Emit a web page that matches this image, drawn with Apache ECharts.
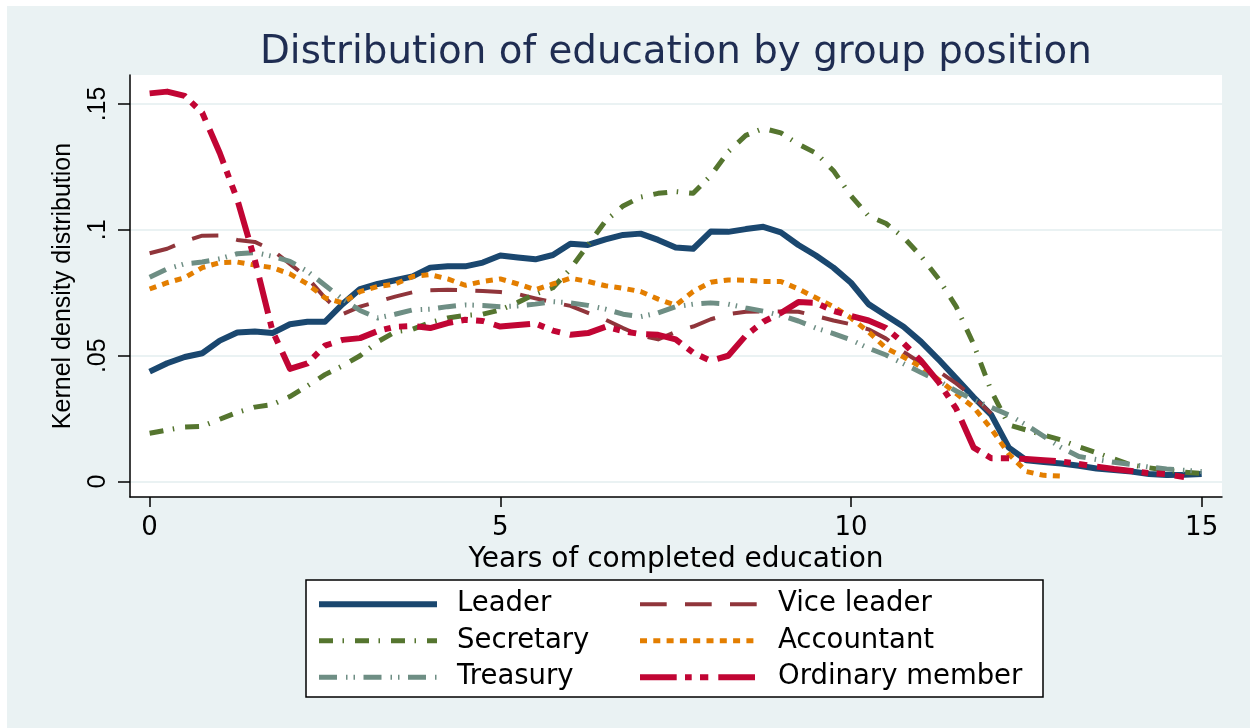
<!DOCTYPE html>
<html>
<head>
<meta charset="utf-8">
<script src="https://cdn.jsdelivr.net/npm/echarts@6/dist/echarts.min.js"></script>
<style>
html,body{margin:0;padding:0;background:#fff;width:1250px;height:728px;overflow:hidden}
#chart{position:absolute;left:7px;top:6px;width:1243px;height:722px}
</style>
</head>
<body>
<div id="chart"></div>
<script>
// ---- data ----
const years = [0,0.25,0.5,0.75,1,1.25,1.5,1.75,2,2.25,2.5,2.75,3,3.25,3.5,3.75,4,4.25,4.5,4.75,5,5.25,5.5,5.75,6,6.25,6.5,6.75,7,7.25,7.5,7.75,8,8.25,8.5,8.75,9,9.25,9.5,9.75,10,10.25,10.5,10.75,11,11.25,11.5,11.75,12,12.25,12.5,12.75,13,13.25,13.5,13.75,14,14.25,14.5,14.75,15];

const leader = [0.0437,0.047,0.0495,0.051, 0.056,0.0592,0.0596,0.059, 0.0625,0.0635,0.0635,0.0705, 0.0765,0.0785,0.080,0.0815, 0.085,0.0855,0.0855,0.087, 0.0898,0.089,0.0883,0.090, 0.0945,0.094,0.0962,0.098, 0.0985,0.096,0.093,0.0925, 0.0993,0.0992,0.1003,0.1012, 0.099,0.094,0.0898,0.085, 0.079,0.0705,0.066,0.0615, 0.0555,0.0485,0.041,0.0335, 0.0265,0.0135,0.0085,0.0078, 0.0072,0.0063,0.0052,0.0046, 0.004,0.003,0.0026,0.0027, 0.003];

const viceLeader = [0.0907,0.0925,0.0955,0.0977, 0.0978,0.096,0.0952,0.092, 0.0865,0.081,0.073,0.0665, 0.0695,0.0715,0.0735,0.0752, 0.076,0.0762,0.076,0.0757, 0.0753,0.0745,0.0728,0.0712, 0.0698,0.067,0.0643,0.061, 0.058,0.0565,0.0595,0.0616, 0.0645,0.0665,0.0675,0.0676, 0.0676,0.0675,0.0658,0.064, 0.0625,0.0605,0.0568,0.0515, 0.047,0.0438,0.039,0.0335, 0.027,null,null,null, null,null,null,null, null,null,null,null, null];

const secretary = [0.0192,0.0205,0.0217,0.022, 0.0248,0.0275,0.0296,0.0306, 0.0338,0.038,0.0425,0.046, 0.050,0.0555,0.0595,0.0605, 0.0632,0.065,0.066,0.0665, 0.0682,0.0712,0.0745,0.077, 0.0845,0.094,0.1035,0.1095, 0.113,0.1145,0.1152,0.1145, 0.1215,0.131,0.1375,0.1403, 0.1385,0.134,0.1305,0.1235, 0.1135,0.1055,0.1025,0.097, 0.0895,0.0805,0.0695,0.0545, 0.036,0.0225,0.0205,0.0185, 0.0165,0.0138,0.0115,0.009, 0.0066,0.0055,0.0045,0.0038, 0.0033];

const accountant = [0.0765,0.079,0.081,0.085, 0.087,0.0872,0.086,0.085, 0.0825,0.0785,0.073,0.071, 0.0755,0.0775,0.0785,0.0815, 0.0822,0.0805,0.078,0.0795, 0.0805,0.0785,0.0762,0.0785, 0.0808,0.0795,0.0778,0.0768, 0.0755,0.0725,0.070,0.0755, 0.0792,0.0801,0.080,0.0795, 0.0795,0.0765,0.073,0.0695, 0.065,0.0595,0.053,0.0495, 0.0455,0.0405,0.035,0.0295, 0.021,0.011,0.004,0.0025, 0.0022,null,null,null, null,null,null,null, null];

const treasury = [0.0812,0.0845,0.0865,0.0872, 0.0885,0.0905,0.091,0.0895, 0.0875,0.0835,0.078,0.0725, 0.068,0.065,0.0665,0.0682, 0.0685,0.0695,0.0702,0.070, 0.0695,0.0698,0.0705,0.0715, 0.071,0.070,0.0685,0.0665, 0.0655,0.067,0.0695,0.0705, 0.071,0.0705,0.069,0.0677, 0.066,0.0638,0.061,0.0588, 0.0563,0.053,0.0503,0.0468, 0.0433,0.040,0.036,0.0325, 0.0295,0.0265,0.0225,0.018, 0.0135,0.010,0.0088,0.0077, 0.0068,0.0058,0.005,0.0045, 0.004];

const ordinary = [0.1542,0.1549,0.1532,0.1465, 0.1305,0.112,0.088,0.060, 0.0448,0.047,0.054,0.0563, 0.057,0.0598,0.0615,0.0618, 0.061,0.063,0.0643,0.0638, 0.0616,0.0622,0.0628,0.060, 0.0583,0.059,0.0615,0.0598, 0.0586,0.0583,0.0565,0.0512, 0.048,0.050,0.058,0.0635, 0.067,0.0713,0.071,0.0678, 0.0658,0.064,0.061,0.055, 0.048,0.0395,0.029,0.0135, 0.0093,0.0093,0.009,0.0085, 0.008,0.007,0.006,0.005, 0.0042,0.0034,0.003,0.0018, null];

const xTicks = [0, 5, 10, 15];
const yTicks = [0, 0.05, 0.1, 0.15];
const seriesNames = ['Leader','Vice leader','Secretary','Accountant','Treasury','Ordinary member'];

// ---- build ----
function pairs(vals){
  const out = [];
  for (let i = 0; i < years.length; i++) if (vals[i] != null) out.push([years[i], vals[i]]);
  return out;
}
const seriesData = [leader, viceLeader, secretary, accountant, treasury, ordinary];
const styles = [
  {color:'#1A476F', width:6, type:'solid'},
  {color:'#90353B', width:4, type:[26.7,18.3]},
  {color:'#55752F', width:5, type:[14,9.5,1.5,11]},
  {color:'#E37E00', width:5, type:[7,6.3]},
  {color:'#6E8E84', width:5, type:[18,9,1.5,6,1.5,8.5]},
  {color:'#C10534', width:6, type:[36.7,8.3,6.7,8.3,8.3,10]}
];

const series = seriesNames.map((name, i) => ({
  name: name,
  type: 'line',
  data: pairs(seriesData[i]),
  showSymbol: false,
  symbol: 'none',
  smooth: false,
  z: 2 + i,
  color: styles[i].color,
  lineStyle: {color: styles[i].color, width: styles[i].width, type: styles[i].type, cap: 'butt', join: 'round'},
  emphasis: {disabled: true}
}));

function legendItem(name){
  const s = styles[seriesNames.indexOf(name)];
  return {
    name: name,
    itemStyle: {opacity: 0, color: 'transparent', borderWidth: 0},
    lineStyle: {color: s.color, width: s.width, type: s.type, cap: 'butt', opacity: 1}
  };
}

const legendCommon = {
  orient: 'vertical',
  top: 584.3,
  padding: 0,
  itemWidth: 118,
  itemHeight: 30,
  itemGap: 8.5,
  z: 10,
  selectedMode: false,
  textStyle: {fontFamily: 'DejaVu Sans', fontSize: 27.5, color: '#000', padding: [0, 0, 0, 15]}
};

const chart = echarts.init(document.getElementById('chart'), null, {renderer: 'canvas'});
chart.setOption({
  backgroundColor: '#EAF2F3',
  animation: false,
  title: {
    text: 'Distribution of education by group position',
    left: 253, top: 27, padding: 0,
    textStyle: {fontFamily: 'DejaVu Sans', fontSize: 38.8, fontWeight: 'normal', color: '#1F2D52'}
  },
  grid: {left: 123, top: 69, right: 28, bottom: 231, show: true, backgroundColor: '#fff', borderWidth: 0},
  xAxis: {
    type: 'value', min: -0.28, max: 15.29,
    name: 'Years of completed education', nameLocation: 'middle', nameGap: 38,
    nameTextStyle: {fontFamily: 'DejaVu Sans', fontSize: 28, color: '#000'},
    axisLine: {show: true, onZero: false, lineStyle: {color: '#000', width: 1.5}},
    axisTick: {show: true, customValues: xTicks, length: 10, lineStyle: {color: '#000', width: 1.5}},
    axisLabel: {customValues: xTicks, margin: 18, fontFamily: 'DejaVu Sans', fontSize: 26, color: '#000'},
    splitLine: {show: false}
  },
  yAxis: {
    type: 'value', min: -0.0061, max: 0.1615,
    name: 'Kernel density distribution', nameLocation: 'middle', nameGap: 54, nameRotate: 90,
    nameTextStyle: {fontFamily: 'Liberation Sans', fontSize: 25, color: '#000'},
    axisLine: {show: true, onZero: false, lineStyle: {color: '#000', width: 1.5}},
    axisTick: {show: true, customValues: yTicks, length: 12, lineStyle: {color: '#000', width: 1.5}},
    axisLabel: {
      customValues: yTicks, rotate: 90, margin: 19,
      fontFamily: 'Liberation Sans', fontSize: 25, color: '#000',
      formatter: v => (Math.abs(v) < 1e-9 ? '0' : String(+v.toFixed(2)).replace(/^0\./, '.'))
    },
    splitLine: {show: true, lineStyle: {color: '#EAF2F3', width: 2}}
  },
  legend: [
    Object.assign({}, legendCommon, {left: 309, data: ['Leader', 'Secretary', 'Treasury'].map(legendItem)}),
    Object.assign({}, legendCommon, {left: 630, data: ['Vice leader', 'Accountant', 'Ordinary member'].map(legendItem)})
  ],
  graphic: [{
    type: 'rect', z: 1,
    shape: {x: 299, y: 574, width: 737, height: 117},
    style: {fill: '#fff', stroke: '#000', lineWidth: 1.5}
  }],
  series: series
});
</script>
</body>
</html>
